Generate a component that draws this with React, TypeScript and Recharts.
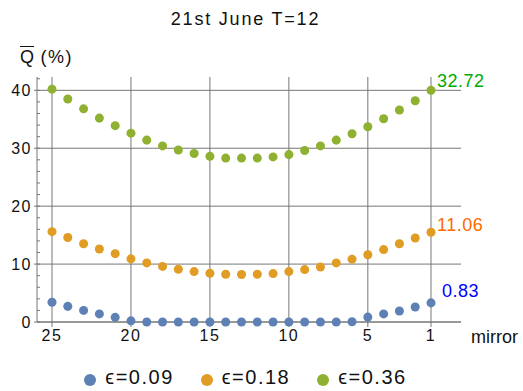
import {
  ReferenceDot,
  ReferenceLine,
  Scatter,
  ScatterChart,
  XAxis,
  YAxis,
  ZAxis,
} from "recharts";

const mirrors = [25, 24, 23, 22, 21, 20, 19, 18, 17, 16, 15, 14, 13, 12, 11, 10, 9, 8, 7, 6, 5, 4, 3, 2, 1];
const eps009 = [3.4, 2.7, 2.0, 1.4, 0.8, 0.2, 0, 0, 0, 0, 0, 0, 0, 0, 0, 0, 0, 0, 0, 0.05, 0.85, 1.4, 1.9, 2.6, 3.3];
const eps018 = [15.6, 14.6, 13.5, 12.6, 11.8, 10.9, 10.2, 9.6, 9.1, 8.7, 8.4, 8.25, 8.2, 8.25, 8.36, 8.7, 9.05, 9.5, 10.2, 10.85, 11.6, 12.5, 13.5, 14.5, 15.5];
const eps036 = [40.2, 38.5, 36.8, 35.2, 33.9, 32.6, 31.4, 30.4, 29.7, 29.1, 28.6, 28.3, 28.3, 28.3, 28.5, 28.9, 29.6, 30.4, 31.4, 32.5, 33.7, 35.1, 36.6, 38.2, 40.0];

const seriesNames = ["ϵ=0.09", "ϵ=0.18", "ϵ=0.36"];
const endLabels = ["0.83", "11.06", "32.72"];
const xTicks = [25, 20, 15, 10, 5, 1];
const yGrid = [0, 10, 20, 30, 40];
const yTicks = [0, 2, 4, 6, 8, 10, 12, 14, 16, 18, 20, 22, 24, 26, 28, 30, 32, 34, 36, 38, 40, 42];

const dotColors = ["#5E81B5", "#E19C24", "#8FB131"];
const labelColors = ["#0000FF", "#FF6A00", "#00AA00"];
const gridColor = "#777";
const font = "'Liberation Sans', Arial, sans-serif";

const series = [eps009, eps018, eps036].map((vals) =>
  mirrors.map((m, i) => ({ mirror: m, q: vals[i] }))
);

function YTick(props: any) {
  const { x, y, payload } = props;
  const v = payload.value as number;
  const axisX = x + 5;
  const major = v % 10 === 0;
  return (
    <g>
      <line
        x1={major ? axisX - 3 : axisX}
        x2={axisX + 3}
        y1={y}
        y2={y}
        stroke={gridColor}
      />
      {major && (
        <text
          x={x}
          y={y}
          dy="0.36em"
          textAnchor="end"
          fontFamily={font}
          fontSize={16}
          letterSpacing={1.5}
          fill="#111"
        >
          {v}
        </text>
      )}
    </g>
  );
}

export default function App() {
  return (
    <div
      style={{
        position: "absolute",
        left: 0,
        top: 0,
        width: 523,
        height: 391,
        background: "#fff",
        fontFamily: font,
      }}
    >
      <div
        style={{
          position: "absolute",
          left: 0,
          top: 9,
          width: 491,
          textAlign: "center",
          fontSize: 18,
          letterSpacing: 1.8,
          color: "#111",
        }}
      >
        21st June T=12
      </div>
      <div
        style={{
          position: "absolute",
          left: 20,
          top: 47,
          fontSize: 18,
          color: "#111",
          whiteSpace: "nowrap",
        }}
      >
        <span style={{ textDecoration: "overline" }}>Q</span>
        <span style={{ letterSpacing: 1.5 }}> (%)</span>
      </div>
      <ScatterChart
        width={523}
        height={391}
        margin={{ top: 77, right: 62, bottom: 39, left: 0 }}
      >
        <XAxis
          dataKey="mirror"
          type="number"
          reversed
          domain={[-0.9, 25.95]}
          ticks={xTicks}
          interval={0}
          height={30}
          tickSize={5}
          tickMargin={3}
          stroke={gridColor}
          tick={{ fontFamily: font, fontSize: 16, fill: "#111", letterSpacing: 1.5 }}
          label={{
            value: "mirror",
            position: "right",
            offset: 10,
            fontFamily: font,
            fontSize: 18,
            fill: "#111",
          }}
        />
        <YAxis
          dataKey="q"
          type="number"
          domain={[0, 42.3]}
          ticks={yTicks}
          interval={0}
          width={37}
          tickSize={3}
          tickMargin={2}
          tickLine={false}
          stroke={gridColor}
          tick={<YTick />}
        />
        <ZAxis range={[50, 50]} />
        {yGrid.map((v) => (
          <ReferenceLine key={"h" + v} y={v} stroke={gridColor} />
        ))}
        {xTicks.map((v) => (
          <ReferenceLine key={"v" + v} x={v} stroke={gridColor} />
        ))}
        {series.map((d, i) => (
          <Scatter
            key={seriesNames[i]}
            name={seriesNames[i]}
            data={d}
            fill={dotColors[i]}
            isAnimationActive={false}
          />
        ))}
        {series.map((d, i) => (
          <ReferenceDot
            key={"lbl" + i}
            x={d[d.length - 1].mirror}
            y={d[d.length - 1].q}
            r={0}
            stroke="none"
            fill="none"
            label={{
              value: endLabels[i],
              position: "right",
              offset: i === 0 ? 11 : 6,
              dy: i === 2 ? -10 : i === 1 ? -8 : -12,
              fontFamily: font,
              fontSize: 18,
              letterSpacing: 0.5,
              fill: labelColors[i],
            }}
          />
        ))}
      </ScatterChart>
      <div
        style={{
          position: "absolute",
          left: 0,
          top: 366,
          width: 523,
          display: "flex",
          justifyContent: "center",
          gap: 27,
          paddingRight: 32,
          boxSizing: "border-box",
          fontSize: 20,
          color: "#111",
        }}
      >
        {seriesNames.map((n, i) => (
          <div key={n} style={{ display: "flex", alignItems: "center", gap: 9 }}>
            <span
              style={{
                width: 12,
                height: 12,
                borderRadius: "50%",
                background: dotColors[i],
                display: "inline-block",
                marginTop: 4,
              }}
            />
            <span style={{ letterSpacing: 1.5 }}>{n}</span>
          </div>
        ))}
      </div>
    </div>
  );
}
